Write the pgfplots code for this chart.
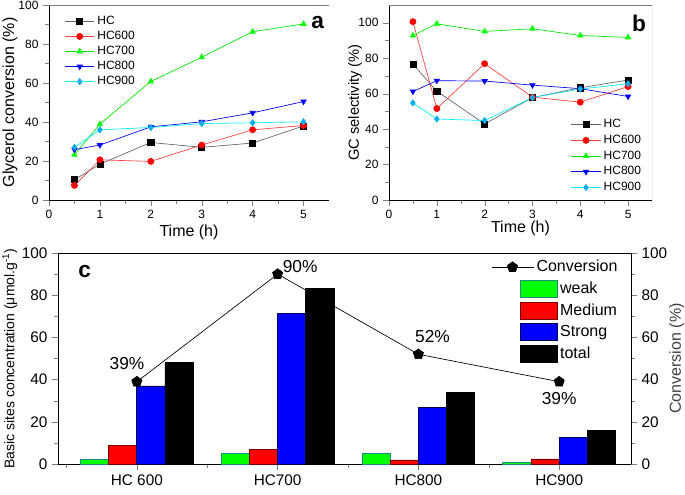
\documentclass[border=0pt]{standalone}
\usepackage{pgfplots}
\pgfplotsset{compat=1.18}
\usepackage{fontspec}
\setmainfont{Liberation Sans}
\definecolor{hcgray}{RGB}{100,100,100}
\definecolor{hcred}{RGB}{255,60,60}
\definecolor{hcgreen}{RGB}{0,230,0}
\definecolor{hcblue}{RGB}{0,0,240}
\definecolor{hccyan}{RGB}{0,240,255}
\definecolor{teal2}{RGB}{30,140,130}
\definecolor{darkred}{RGB}{120,0,0}
\definecolor{navy2}{RGB}{0,0,90}
\pgfplotsset{
  every axis/.append style={/pgf/number format/assume math mode=true, line width=0.6pt},
  lineleg/.style={legend image code/.code={\draw[mark repeat=2,mark phase=2,##1] plot coordinates {(0pt,0pt) (11pt,0pt) (22pt,0pt)};}},
  smallpanel/.style={xmin=0, xmax=5.5, ymin=0,
    axis x line*=bottom, axis y line*=left,
    xtick={0,1,2,3,4,5}, minor x tick num=1, minor y tick num=1,
    tick align=outside,
    tick label style={font=\fontsize{9}{10}\selectfont},
    label style={font=\fontsize{12}{14}\selectfont},
    lineleg, legend cell align=left,
    every axis plot/.append style={line width=0.5pt, mark size=2.3pt}},
}
\begin{document}
\begin{tikzpicture}
\useasboundingbox (0pt,0pt) rectangle (513.75pt,370.5pt);
% ---------- panel a
\begin{axis}[scale only axis, anchor=south west, at={(36.75pt,220.5pt)}, width=210pt, height=146.25pt,
  smallpanel, ymax=100,
  ytick={0,20,...,100},
  xlabel={Time (h)}, ylabel={Glycerol conversion (\%)},
  xlabel style={at={(axis description cs:0.5,-0.165)}, anchor=center},
  ylabel style={at={(axis description cs:-0.139,0.5)}, anchor=center},
  legend style={draw=none, fill=none, at={(0.05,0.965)}, anchor=north west,
    font=\fontsize{9}{10}\selectfont, inner sep=1pt, row sep=-0.5pt}]
\addplot[hcgray, mark=square*, mark options={black}] coordinates {(0.5,10.4) (1,18.4) (2,29.5) (3,27) (4,29.2) (5,38)};
\addplot[hcred, mark=*, mark options={red}] coordinates {(0.5,7.5) (1,20.6) (2,19.8) (3,28.2) (4,36) (5,38.2)};
\addplot[hcgreen, mark=triangle*, mark options={green}] coordinates {(0.5,23.2) (1,38.9) (2,60.8) (3,73.2) (4,86.3) (5,90.3)};
\addplot[hcblue, mark=triangle*, mark options={blue, rotate=180}] coordinates {(0.5,25.8) (1,28.2) (2,37.5) (3,40.1) (4,44.7) (5,50.5)};
\addplot[hccyan, mark=diamond*, mark options={cyan}] coordinates {(0.5,27) (1,36) (2,37.2) (3,39.2) (4,39.6) (5,40.1)};
\legend{HC,HC600,HC700,HC800,HC900}
\draw[gray, line width=0.6pt] (rel axis cs:0,1) -- (rel axis cs:1,1) -- (rel axis cs:1,0);
\node[font=\fontsize{17}{18}\bfseries] at (axis cs:5.28,90.8) {a};
\end{axis}
% ---------- panel b
\begin{axis}[scale only axis, anchor=south west, at={(291.75pt,220.5pt)}, width=197.25pt, height=146.25pt,
  smallpanel, ymax=110,
  ytick={0,20,...,100},
  xlabel={Time (h)}, ylabel={GC selectivity (\%)},
  xlabel style={at={(axis description cs:0.5,-0.144)}, anchor=center},
  ylabel style={at={(axis description cs:-0.129,0.5)}, anchor=center, font=\fontsize{11}{13}\selectfont},
  legend style={draw=none, fill=none, at={(0.975,0.015)}, anchor=south east,
    font=\fontsize{9}{10}\selectfont, inner sep=1pt, row sep=0pt}]
\addplot[hcgray, mark=square*, mark options={black}] coordinates {(0.5,76.6) (1,61.4) (2,42.9) (3,57.8) (4,63.3) (5,67.7)};
\addplot[hcred, mark=*, mark options={red}] coordinates {(0.5,100.6) (1,51.6) (2,76.9) (3,58) (4,55.2) (5,64)};
\addplot[hcgreen, mark=triangle*, mark options={green}] coordinates {(0.5,92.8) (1,99.4) (2,95.1) (3,96.6) (4,92.8) (5,91.7)};
\addplot[hcblue, mark=triangle*, mark options={blue, rotate=180}] coordinates {(0.5,61.2) (1,67.3) (2,67.1) (3,64.8) (4,62.8) (5,58.4)};
\addplot[hccyan, mark=diamond*, mark options={cyan}] coordinates {(0.5,54.8) (1,45.7) (2,44.8) (3,57.8) (4,62.6) (5,65.6)};
\legend{HC,HC600,HC700,HC800,HC900}
\draw[gray, line width=0.6pt] (rel axis cs:0,1) -- (rel axis cs:1,1) -- (rel axis cs:1,0);
\node[font=\fontsize{17}{18}\bfseries] at (axis cs:5.23,99.6) {b};
\end{axis}
% ---------- panel c (bars)
\begin{axis}[scale only axis, anchor=south west, at={(43.5pt,22.5pt)}, width=429.75pt, height=158.25pt,
  xmin=-0.56, xmax=3.51, ymin=0, ymax=100,
  xtick={0,1,2,3}, xticklabels={HC 600,HC700,HC800,HC900},
  minor xtick={-0.5,0.5,1.5,2.5},
  ytick={0,20,...,100}, minor y tick num=1,
  tick align=outside, xtick pos=left, ytick pos=left,
  tick label style={font=\fontsize{11.5}{13}\selectfont},
  ylabel={Basic sites concentration (μmol.g\textsuperscript{-1})},
  ylabel style={at={(axis description cs:-0.084,0.5)}, anchor=center, font=\fontsize{10.5}{12}\selectfont},
  ybar, bar width=0.2,
  legend image code/.code={\draw[#1,line width=0.6pt] (0pt,-6.4pt) rectangle (27.5pt,6.4pt);},
  legend style={draw=none, fill=none, at={(0.981,0.877)}, anchor=north east,
    font=\fontsize{12}{13}\selectfont, inner sep=0pt, row sep=2.2pt,
    /tikz/every even column/.append style={column sep=4pt}},
  legend cell align=left]
\addplot[fill=green, draw=teal2, line width=0.6pt, bar shift=-0.3] coordinates {(0,2) (1,5) (2,5) (3,0.8)};
\addplot[fill=red, draw=darkred, line width=0.6pt, bar shift=-0.1] coordinates {(0,8.7) (1,6.8) (2,1.9) (3,2.4)};
\addplot[fill=blue, draw=navy2, line width=0.6pt, bar shift=0.1] coordinates {(0,37) (1,71.2) (2,27) (3,12.5)};
\addplot[fill=black, draw=black, line width=0.6pt, bar shift=0.3] coordinates {(0,48) (1,83) (2,33.8) (3,16)};
\legend{weak,Medium,Strong,total}
\node[font=\fontsize{17}{18}\bfseries] at (axis cs:-0.37,91) {c};
\end{axis}
% ---------- panel c (conversion, right axis)
\begin{axis}[scale only axis, anchor=south west, at={(43.5pt,22.5pt)}, width=429.75pt, height=158.25pt,
  xmin=-0.56, xmax=3.51, ymin=0, ymax=100,
  axis x line=none, axis y line*=right,
  ytick={0,20,...,100}, minor y tick num=1, tick align=outside,
  tick label style={font=\fontsize{11.5}{13}\selectfont},
  ylabel={Conversion (\%)},
  ylabel style={at={(axis description cs:1.08,0.5)}, anchor=center, rotate=0, font=\fontsize{12}{14}\selectfont, color=black!75},
  legend image code/.code={\draw[mark repeat=2,mark phase=2,#1] plot coordinates {(0pt,0pt) (15.75pt,0pt) (31.5pt,0pt)};},
  legend style={draw=none, fill=none, at={(0.984,0.986)}, anchor=north east,
    font=\fontsize{12}{13}\selectfont, inner sep=1pt}]
\addplot[black, line width=0.5pt, mark=pentagon*, mark size=4pt] coordinates {(0,39) (1,90) (2,52) (3,39)};
\legend{Conversion}
\node[font=\fontsize{13}{15}\selectfont] at (axis cs:-0.07,47.4) {39\%};
\node[font=\fontsize{13}{15}\selectfont] at (axis cs:1.16,93.8) {90\%};
\node[font=\fontsize{13}{15}\selectfont] at (axis cs:2.10,60.3) {52\%};
\node[font=\fontsize{13}{15}\selectfont] at (axis cs:3.0,30.8) {39\%};
\end{axis}
\end{tikzpicture}
\end{document}
